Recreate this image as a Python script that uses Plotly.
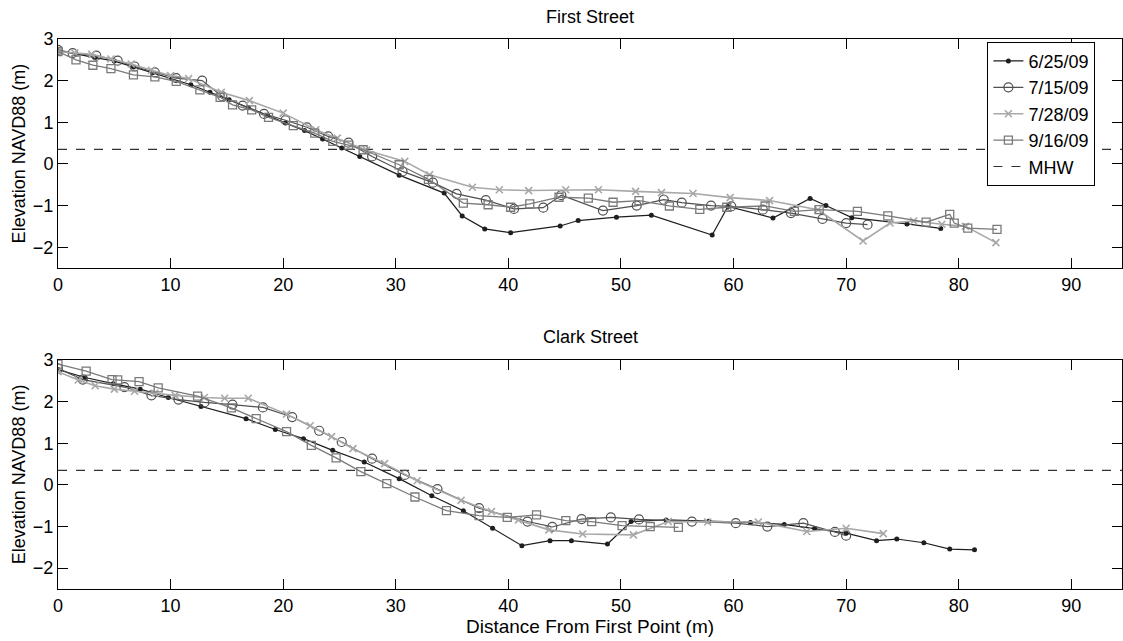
import plotly.graph_objects as go

# ---------------- data ----------------
DATES = ["6/25/09", "7/15/09", "7/28/09", "9/16/09"]
MHW = 0.35

# First Street
fs_625_x = [0, 1.6, 3.3, 5.0, 6.7, 8.4, 10.1, 11.8, 13.5, 15.2, 16.9, 18.6, 20.2, 21.9, 23.5, 25.2, 26.8, 30.3, 34.3, 35.9, 37.9, 40.2, 44.6, 46.2, 49.6, 52.7, 58.1, 59.5, 63.5, 66.8, 68.2, 70.5, 75.4, 78.4]
fs_625_y = [2.72, 2.64, 2.56, 2.47, 2.33, 2.19, 2.05, 1.90, 1.72, 1.54, 1.35, 1.17, 0.98, 0.80, 0.60, 0.38, 0.18, -0.27, -0.70, -1.25, -1.56, -1.65, -1.49, -1.36, -1.28, -1.23, -1.71, -1.02, -1.30, -0.83, -1.00, -1.29, -1.44, -1.55]

fs_715_x = [0, 1.3, 3.4, 5.3, 6.8, 8.6, 10.5, 12.8, 14.6, 16.4, 18.3, 20.2, 22.1, 24.0, 25.8, 27.9, 30.6, 33.3, 35.4, 38.0, 40.5, 43.1, 44.7, 48.4, 51.4, 53.8, 55.4, 58.0, 59.8, 62.6, 65.1, 67.9, 70.0, 71.9]
fs_715_y = [2.74, 2.66, 2.60, 2.48, 2.34, 2.20, 2.06, 2.00, 1.62, 1.40, 1.20, 1.05, 0.88, 0.66, 0.51, 0.18, -0.18, -0.45, -0.72, -0.87, -1.08, -1.05, -0.75, -1.12, -1.00, -0.86, -0.93, -1.00, -1.02, -1.10, -1.18, -1.32, -1.42, -1.46]

fs_728_x = [0, 1.5, 3.0, 4.7, 6.5, 8.3, 10.0, 11.6, 14.5, 17.0, 20.0, 22.9, 24.8, 27.4, 30.8, 33.0, 36.8, 39.2, 41.8, 45.1, 48.0, 51.3, 53.6, 56.4, 59.7, 63.2, 67.5, 71.5, 73.9, 76.0, 78.5, 80.6, 83.3]
fs_728_y = [2.70, 2.66, 2.63, 2.52, 2.40, 2.25, 2.12, 2.05, 1.72, 1.52, 1.22, 0.82, 0.62, 0.33, 0.06, -0.26, -0.56, -0.62, -0.64, -0.62, -0.62, -0.66, -0.69, -0.71, -0.81, -0.88, -1.10, -1.85, -1.42, -1.37, -1.45, -1.50, -1.89]

fs_916_x = [0, 1.6, 3.1, 4.7, 6.7, 8.6, 10.5, 12.6, 14.4, 15.5, 17.2, 18.7, 20.9, 22.8, 24.4, 25.8, 27.1, 30.3, 32.9, 36.0, 38.2, 40.2, 41.9, 44.5, 47.1, 49.3, 51.6, 54.3, 57.0, 59.4, 62.8, 65.4, 67.6, 71.0, 73.7, 77.1, 79.2, 79.6, 80.8, 83.4]
fs_916_y = [2.70, 2.50, 2.37, 2.29, 2.14, 2.09, 1.98, 1.78, 1.60, 1.42, 1.30, 1.12, 0.92, 0.74, 0.54, 0.45, 0.34, -0.02, -0.37, -0.94, -0.98, -1.04, -0.96, -0.80, -0.82, -0.92, -0.88, -1.01, -1.09, -1.04, -1.01, -1.14, -1.10, -1.14, -1.25, -1.40, -1.21, -1.42, -1.54, -1.57]

# Clark Street
cs_625_x = [0, 2.4, 4.9, 7.3, 9.8, 12.7, 16.7, 19.3, 21.8, 24.4, 27.2, 30.3, 33.2, 36.0, 38.6, 41.2, 43.7, 45.6, 48.8, 50.9, 54.0, 57.8, 61.5, 64.5, 67.2, 70.0, 72.7, 74.5, 76.9, 79.2, 81.4]
cs_625_y = [2.77, 2.58, 2.43, 2.30, 2.10, 1.88, 1.59, 1.33, 1.11, 0.83, 0.55, 0.15, -0.26, -0.62, -1.04, -1.46, -1.34, -1.34, -1.42, -0.88, -0.84, -0.87, -0.90, -0.95, -1.05, -1.16, -1.34, -1.30, -1.39, -1.54, -1.56]

cs_715_x = [0, 2.2, 5.9, 8.3, 10.7, 13.0, 15.5, 18.2, 20.8, 23.2, 25.2, 27.9, 30.8, 33.7, 37.4, 41.7, 43.9, 46.5, 49.1, 51.6, 56.3, 60.2, 63.0, 66.2, 69.0, 70.0]
cs_715_y = [2.80, 2.53, 2.35, 2.15, 2.05, 1.98, 1.93, 1.86, 1.63, 1.30, 1.03, 0.63, 0.24, -0.10, -0.56, -0.88, -1.01, -0.82, -0.78, -0.83, -0.88, -0.92, -1.00, -0.92, -1.13, -1.22]

cs_728_x = [0, 1.8, 3.3, 5.0, 6.8, 8.6, 10.4, 13.0, 14.8, 16.9, 20.3, 22.4, 24.3, 26.2, 29.0, 31.9, 35.8, 38.5, 40.9, 43.6, 46.6, 51.1, 54.2, 57.7, 62.2, 66.5, 70.0, 73.3]
cs_728_y = [2.72, 2.52, 2.38, 2.30, 2.25, 2.20, 2.15, 2.10, 2.08, 2.08, 1.70, 1.42, 1.16, 0.87, 0.51, 0.10, -0.37, -0.64, -0.84, -1.08, -1.18, -1.20, -0.88, -0.89, -0.89, -1.12, -1.04, -1.17]

cs_916_x = [0, 2.5, 4.8, 5.3, 7.2, 8.9, 12.4, 15.4, 17.6, 20.3, 22.5, 24.7, 26.9, 29.2, 31.7, 34.5, 37.4, 39.9, 42.5, 45.1, 47.4, 50.1, 52.6, 55.1]
cs_916_y = [2.90, 2.73, 2.53, 2.52, 2.48, 2.33, 2.13, 1.85, 1.59, 1.28, 0.95, 0.65, 0.32, 0.03, -0.29, -0.62, -0.74, -0.78, -0.72, -0.86, -0.88, -0.98, -1.00, -1.02]

X_TICKS = [0, 10, 20, 30, 40, 50, 60, 70, 80, 90]
Y_TICKS = [-2, -1, 0, 1, 2, 3]
X_RANGE = [0, 94.5]
Y_RANGE = [-2.5, 3]

# ---------------- styles ----------------
FONT = "Liberation Sans, Arial, Helvetica, sans-serif"
styles = [
    dict(color="#1e1e1e", symbol="circle", size=5, lw=1.2, mlw=0),
    dict(color="#505050", symbol="circle-open", size=9, lw=1.2, mlw=1.2),
    dict(color="#a8a8a8", symbol="x-thin-open", size=7, lw=1.6, mlw=1.6),
    dict(color="#7a7a7a", symbol="square-open", size=8, lw=1.3, mlw=1.3),
]

fig = go.Figure()

panels = [
    ("x", "y", [(fs_625_x, fs_625_y), (fs_715_x, fs_715_y), (fs_728_x, fs_728_y), (fs_916_x, fs_916_y)], True),
    ("x2", "y2", [(cs_625_x, cs_625_y), (cs_715_x, cs_715_y), (cs_728_x, cs_728_y), (cs_916_x, cs_916_y)], False),
]

for xa, ya, series, show in panels:
    fig.add_trace(go.Scatter(
        x=X_RANGE, y=[MHW, MHW], mode="lines", name="MHW",
        line=dict(color="#333333", width=1.1, dash="dash"),
        xaxis=xa, yaxis=ya, showlegend=False, hoverinfo="skip"))
    for (sx, sy), name, st in zip(series, DATES, styles):
        fig.add_trace(go.Scatter(
            x=sx, y=sy, mode="lines+markers", name=name,
            line=dict(color=st["color"], width=st["lw"]),
            marker=dict(symbol=st["symbol"], size=st["size"], color=st["color"],
                        line=dict(color=st["color"], width=st["mlw"])),
            xaxis=xa, yaxis=ya, showlegend=show, legendrank=DATES.index(name)))

# legend entry for MHW (after dates)
fig.add_trace(go.Scatter(
    x=[None], y=[None], mode="lines", name="MHW",
    line=dict(color="#333333", width=1.1, dash="dash"),
    xaxis="x", yaxis="y", showlegend=True, legendrank=10))

axis_common = dict(
    showline=True, linecolor="black", linewidth=1, mirror="allticks",
    ticks="inside", ticklen=10, tickwidth=1, tickcolor="black",
    showgrid=False, zeroline=False, tickfont=dict(family=FONT, size=18, color="black"),
)

fig.update_layout(
    width=1123, height=641,
    margin=dict(l=58, r=1, t=39, b=52),
    paper_bgcolor="white", plot_bgcolor="white",
    font=dict(family=FONT, size=18, color="black"),
    xaxis=dict(axis_common, range=X_RANGE, tickvals=X_TICKS, domain=[0, 1], anchor="y"),
    yaxis=dict(axis_common, range=Y_RANGE, tickvals=Y_TICKS, domain=[0.5836, 1], anchor="x",
               title=dict(text="Elevation NAVD88 (m)", font=dict(family=FONT, size=18), standoff=2)),
    xaxis2=dict(axis_common, range=X_RANGE, tickvals=X_TICKS, domain=[0, 1], anchor="y2",
                title=dict(text="Distance From First Point (m)", font=dict(family=FONT, size=19), standoff=4)),
    yaxis2=dict(axis_common, range=Y_RANGE, tickvals=Y_TICKS, domain=[0, 0.4164], anchor="x2",
                title=dict(text="Elevation NAVD88 (m)", font=dict(family=FONT, size=18), standoff=2)),
    legend=dict(x=0.8735, y=0.995, xanchor="left", yanchor="top",
                bordercolor="black", borderwidth=1, bgcolor="white",
                font=dict(family=FONT, size=18), tracegroupgap=0, itemwidth=30),
    annotations=[
        dict(text="First Street", xref="paper", yref="paper", x=0.5, y=1, yshift=22,
             showarrow=False, font=dict(family=FONT, size=18), yanchor="middle"),
        dict(text="Clark Street", xref="paper", yref="paper", x=0.5, y=0.4164, yshift=23,
             showarrow=False, font=dict(family=FONT, size=18), yanchor="middle"),
    ],
    showlegend=True,
)

fig.write_html("out.html")
